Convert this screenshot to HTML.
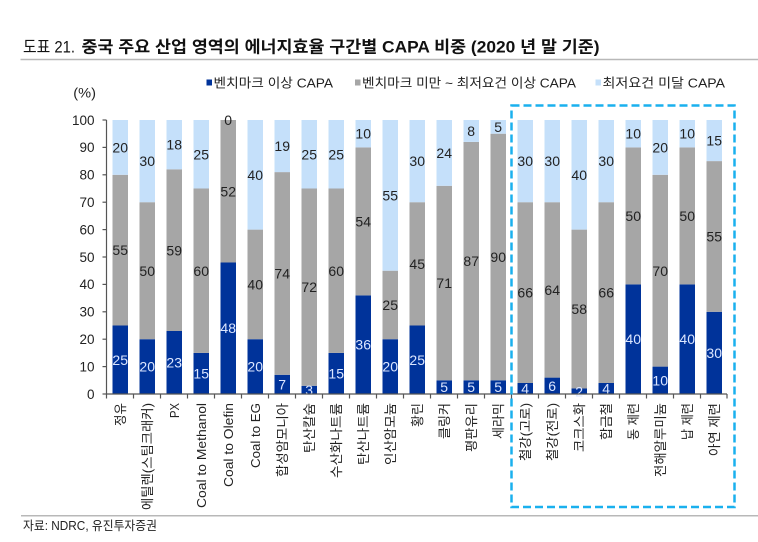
<!DOCTYPE html>
<html><head><meta charset="utf-8"><style>
html,body{margin:0;padding:0;background:#fff;}
svg{display:block;}
text{font-family:"Liberation Sans","Noto Sans CJK KR",sans-serif;}
</style></head><body>
<svg width="758" height="542" viewBox="0 0 758 542" xmlns="http://www.w3.org/2000/svg">
<rect width="758" height="542" fill="#fff"/>
<!-- title -->
<text x="23" y="52.5" font-size="16.5" fill="#111" textLength="52" lengthAdjust="spacingAndGlyphs">도표 21.</text>
<text x="81.5" y="52.5" font-size="16.5" font-weight="bold" fill="#111" textLength="518" lengthAdjust="spacingAndGlyphs">중국 주요 산업 영역의 에너지효율 구간별 CAPA 비중 (2020 년 말 기준)</text>
<line x1="20.5" y1="59.5" x2="758" y2="59.5" stroke="#b8b8b8" stroke-width="1.5"/>
<!-- legend -->
<rect x="206.5" y="79.5" width="5.5" height="6" fill="#00339a"/>
<text x="213.5" y="87.5" font-size="13" fill="#222" textLength="119.5" lengthAdjust="spacingAndGlyphs">벤치마크 이상 CAPA</text>
<rect x="355" y="79.5" width="5.5" height="6" fill="#a6a6a6"/>
<text x="362" y="87.5" font-size="13" fill="#222" textLength="214" lengthAdjust="spacingAndGlyphs">벤치마크 미만 ~ 최저요건 이상 CAPA</text>
<rect x="595.5" y="79.5" width="5.5" height="6" fill="#c5e0fa"/>
<text x="602.5" y="87.5" font-size="13" fill="#222" textLength="122.5" lengthAdjust="spacingAndGlyphs">최저요건 미달 CAPA</text>
<text x="73.3" y="97.5" font-size="13.5" fill="#222" textLength="22.7" lengthAdjust="spacingAndGlyphs">(%)</text>
<!-- y axis -->
<g font-size="13.5" fill="#222" text-anchor="end">
<text x="94.5" y="124.8">100</text>
<text x="94.5" y="152.2">90</text>
<text x="94.5" y="179.6">80</text>
<text x="94.5" y="207">70</text>
<text x="94.5" y="234.4">60</text>
<text x="94.5" y="261.8">50</text>
<text x="94.5" y="289.2">40</text>
<text x="94.5" y="316.6">30</text>
<text x="94.5" y="344">20</text>
<text x="94.5" y="371.4">10</text>
<text x="94.5" y="398.8">0</text>
</g>
<g stroke="#555" stroke-width="1.2">
<line x1="106.5" y1="120" x2="106.5" y2="394"/>
<line x1="102.5" y1="120" x2="106.5" y2="120"/>
<line x1="102.5" y1="147.4" x2="106.5" y2="147.4"/>
<line x1="102.5" y1="174.8" x2="106.5" y2="174.8"/>
<line x1="102.5" y1="202.2" x2="106.5" y2="202.2"/>
<line x1="102.5" y1="229.6" x2="106.5" y2="229.6"/>
<line x1="102.5" y1="257" x2="106.5" y2="257"/>
<line x1="102.5" y1="284.4" x2="106.5" y2="284.4"/>
<line x1="102.5" y1="311.8" x2="106.5" y2="311.8"/>
<line x1="102.5" y1="339.2" x2="106.5" y2="339.2"/>
<line x1="102.5" y1="366.6" x2="106.5" y2="366.6"/>
<line x1="102.5" y1="394" x2="106.5" y2="394"/>
</g>
<!-- bars -->
<g id="bars">
<!-- i, x = 112.5+27i ; y(v)=394-2.74v -->
<!-- 0 정유 25,55,20 -->
<rect x="112.5" y="325.5" width="15.5" height="68.5" fill="#00339a"/>
<rect x="112.5" y="174.8" width="15.5" height="150.7" fill="#a6a6a6"/>
<rect x="112.5" y="120" width="15.5" height="54.8" fill="#c5e0fa"/>
<!-- 1 20,50,30 -->
<rect x="139.5" y="339.2" width="15.5" height="54.8" fill="#00339a"/>
<rect x="139.5" y="202.2" width="15.5" height="137" fill="#a6a6a6"/>
<rect x="139.5" y="120" width="15.5" height="82.2" fill="#c5e0fa"/>
<!-- 2 23,59,18 -->
<rect x="166.5" y="331" width="15.5" height="63" fill="#00339a"/>
<rect x="166.5" y="169.3" width="15.5" height="161.7" fill="#a6a6a6"/>
<rect x="166.5" y="120" width="15.5" height="49.3" fill="#c5e0fa"/>
<!-- 3 15,60,25 -->
<rect x="193.5" y="352.9" width="15.5" height="41.1" fill="#00339a"/>
<rect x="193.5" y="188.5" width="15.5" height="164.4" fill="#a6a6a6"/>
<rect x="193.5" y="120" width="15.5" height="68.5" fill="#c5e0fa"/>
<!-- 4 48,52,0 -->
<rect x="220.5" y="262.5" width="15.5" height="131.5" fill="#00339a"/>
<rect x="220.5" y="120" width="15.5" height="142.5" fill="#a6a6a6"/>
<!-- 5 20,40,40 -->
<rect x="247.5" y="339.2" width="15.5" height="54.8" fill="#00339a"/>
<rect x="247.5" y="229.6" width="15.5" height="109.6" fill="#a6a6a6"/>
<rect x="247.5" y="120" width="15.5" height="109.6" fill="#c5e0fa"/>
<!-- 6 7,74,19 -->
<rect x="274.5" y="374.8" width="15.5" height="19.2" fill="#00339a"/>
<rect x="274.5" y="172.1" width="15.5" height="202.7" fill="#a6a6a6"/>
<rect x="274.5" y="120" width="15.5" height="52.1" fill="#c5e0fa"/>
<!-- 7 3,72,25 -->
<rect x="301.5" y="385.8" width="15.5" height="8.2" fill="#00339a"/>
<rect x="301.5" y="188.5" width="15.5" height="197.3" fill="#a6a6a6"/>
<rect x="301.5" y="120" width="15.5" height="68.5" fill="#c5e0fa"/>
<!-- 8 15,60,25 -->
<rect x="328.5" y="352.9" width="15.5" height="41.1" fill="#00339a"/>
<rect x="328.5" y="188.5" width="15.5" height="164.4" fill="#a6a6a6"/>
<rect x="328.5" y="120" width="15.5" height="68.5" fill="#c5e0fa"/>
<!-- 9 36,54,10 -->
<rect x="355.5" y="295.4" width="15.5" height="98.6" fill="#00339a"/>
<rect x="355.5" y="147.4" width="15.5" height="148" fill="#a6a6a6"/>
<rect x="355.5" y="120" width="15.5" height="27.4" fill="#c5e0fa"/>
<!-- 10 20,25,55 -->
<rect x="382.5" y="339.2" width="15.5" height="54.8" fill="#00339a"/>
<rect x="382.5" y="270.7" width="15.5" height="68.5" fill="#a6a6a6"/>
<rect x="382.5" y="120" width="15.5" height="150.7" fill="#c5e0fa"/>
<!-- 11 25,45,30 -->
<rect x="409.5" y="325.5" width="15.5" height="68.5" fill="#00339a"/>
<rect x="409.5" y="202.2" width="15.5" height="123.3" fill="#a6a6a6"/>
<rect x="409.5" y="120" width="15.5" height="82.2" fill="#c5e0fa"/>
<!-- 12 5,71,24 -->
<rect x="436.5" y="380.3" width="15.5" height="13.7" fill="#00339a"/>
<rect x="436.5" y="185.8" width="15.5" height="194.5" fill="#a6a6a6"/>
<rect x="436.5" y="120" width="15.5" height="65.8" fill="#c5e0fa"/>
<!-- 13 5,87,8 -->
<rect x="463.5" y="380.3" width="15.5" height="13.7" fill="#00339a"/>
<rect x="463.5" y="141.9" width="15.5" height="238.4" fill="#a6a6a6"/>
<rect x="463.5" y="120" width="15.5" height="21.9" fill="#c5e0fa"/>
<!-- 14 5,90,5 -->
<rect x="490.5" y="380.3" width="15.5" height="13.7" fill="#00339a"/>
<rect x="490.5" y="133.7" width="15.5" height="246.6" fill="#a6a6a6"/>
<rect x="490.5" y="120" width="15.5" height="13.7" fill="#c5e0fa"/>
<!-- 15 4,66,30 -->
<rect x="517.5" y="383" width="15.5" height="11" fill="#00339a"/>
<rect x="517.5" y="202.2" width="15.5" height="180.8" fill="#a6a6a6"/>
<rect x="517.5" y="120" width="15.5" height="82.2" fill="#c5e0fa"/>
<!-- 16 6,64,30 -->
<rect x="544.5" y="377.6" width="15.5" height="16.4" fill="#00339a"/>
<rect x="544.5" y="202.2" width="15.5" height="175.4" fill="#a6a6a6"/>
<rect x="544.5" y="120" width="15.5" height="82.2" fill="#c5e0fa"/>
<!-- 17 2,58,40 -->
<rect x="571.5" y="388.5" width="15.5" height="5.5" fill="#00339a"/>
<rect x="571.5" y="229.6" width="15.5" height="158.9" fill="#a6a6a6"/>
<rect x="571.5" y="120" width="15.5" height="109.6" fill="#c5e0fa"/>
<!-- 18 4,66,30 -->
<rect x="598.5" y="383" width="15.5" height="11" fill="#00339a"/>
<rect x="598.5" y="202.2" width="15.5" height="180.8" fill="#a6a6a6"/>
<rect x="598.5" y="120" width="15.5" height="82.2" fill="#c5e0fa"/>
<!-- 19 40,50,10 -->
<rect x="625.5" y="284.4" width="15.5" height="109.6" fill="#00339a"/>
<rect x="625.5" y="147.4" width="15.5" height="137" fill="#a6a6a6"/>
<rect x="625.5" y="120" width="15.5" height="27.4" fill="#c5e0fa"/>
<!-- 20 10,70,20 -->
<rect x="652.5" y="366.6" width="15.5" height="27.4" fill="#00339a"/>
<rect x="652.5" y="174.8" width="15.5" height="191.8" fill="#a6a6a6"/>
<rect x="652.5" y="120" width="15.5" height="54.8" fill="#c5e0fa"/>
<!-- 21 40,50,10 -->
<rect x="679.5" y="284.4" width="15.5" height="109.6" fill="#00339a"/>
<rect x="679.5" y="147.4" width="15.5" height="137" fill="#a6a6a6"/>
<rect x="679.5" y="120" width="15.5" height="27.4" fill="#c5e0fa"/>
<!-- 22 30,55,15 -->
<rect x="706.5" y="311.8" width="15.5" height="82.2" fill="#00339a"/>
<rect x="706.5" y="161.1" width="15.5" height="150.7" fill="#a6a6a6"/>
<rect x="706.5" y="120" width="15.5" height="41.1" fill="#c5e0fa"/>
</g>
<!-- data labels -->
<g font-size="14" text-anchor="middle" fill="#dbe6ff">
<text x="120.2" y="364.8">25</text>
<text x="147.2" y="371.6">20</text>
<text x="174.2" y="367.5">23</text>
<text x="201.2" y="378.5">15</text>
<text x="228.2" y="333.2">48</text>
<text x="255.2" y="371.6">20</text>
<text x="282.2" y="389.4">7</text>
<text x="309.2" y="395">3</text>
<text x="336.2" y="378.5">15</text>
<text x="363.2" y="349.7">36</text>
<text x="390.2" y="371.6">20</text>
<text x="417.2" y="364.8">25</text>
<text x="444.2" y="392.2">5</text>
<text x="471.2" y="392.2">5</text>
<text x="498.2" y="392.2">5</text>
<text x="525.2" y="393.5">4</text>
<text x="552.2" y="390.8">6</text>
<text x="579.2" y="396.3">2</text>
<text x="606.2" y="393.5">4</text>
<text x="633.2" y="344.2">40</text>
<text x="660.2" y="385.3">10</text>
<text x="687.2" y="344.2">40</text>
<text x="714.2" y="358">30</text>
</g>
<g font-size="14" text-anchor="middle" fill="#222">
<text x="120.2" y="255.2">55</text>
<text x="147.2" y="275.8">50</text>
<text x="174.2" y="255.3">59</text>
<text x="201.2" y="275.8">60</text>
<text x="228.2" y="196.3">52</text>
<text x="255.2" y="289.5">40</text>
<text x="282.2" y="278.5">74</text>
<text x="309.2" y="292.2">72</text>
<text x="336.2" y="275.8">60</text>
<text x="363.2" y="226.4">54</text>
<text x="390.2" y="310">25</text>
<text x="417.2" y="268.9">45</text>
<text x="444.2" y="288.1">71</text>
<text x="471.2" y="266.1">87</text>
<text x="498.2" y="262">90</text>
<text x="525.2" y="297.7">66</text>
<text x="552.2" y="294.9">64</text>
<text x="579.2" y="314.1">58</text>
<text x="606.2" y="297.7">66</text>
<text x="633.2" y="220.9">50</text>
<text x="660.2" y="275.8">70</text>
<text x="687.2" y="220.9">50</text>
<text x="714.2" y="241.5">55</text>
<!-- top segment -->
<text x="120.2" y="152.4">20</text>
<text x="147.2" y="166.1">30</text>
<text x="174.2" y="149.7">18</text>
<text x="201.2" y="159.3">25</text>
<text x="228.2" y="125">0</text>
<text x="255.2" y="179.8">40</text>
<text x="282.2" y="151">19</text>
<text x="309.2" y="159.3">25</text>
<text x="336.2" y="159.3">25</text>
<text x="363.2" y="138.7">10</text>
<text x="390.2" y="200.4">55</text>
<text x="417.2" y="166.1">30</text>
<text x="444.2" y="157.9">24</text>
<text x="471.2" y="136">8</text>
<text x="498.2" y="131.9">5</text>
<text x="525.2" y="166.1">30</text>
<text x="552.2" y="166.1">30</text>
<text x="579.2" y="179.8">40</text>
<text x="606.2" y="166.1">30</text>
<text x="633.2" y="138.7">10</text>
<text x="660.2" y="152.4">20</text>
<text x="687.2" y="138.7">10</text>
<text x="714.2" y="145.6">15</text>
</g>
<!-- x axis -->
<g stroke="#555" stroke-width="1.2">
<line x1="106.5" y1="394" x2="727" y2="394"/>
<line x1="106.5" y1="394" x2="106.5" y2="398.5"/>
<line x1="133.5" y1="394" x2="133.5" y2="398.5"/>
<line x1="160.5" y1="394" x2="160.5" y2="398.5"/>
<line x1="187.5" y1="394" x2="187.5" y2="398.5"/>
<line x1="214.5" y1="394" x2="214.5" y2="398.5"/>
<line x1="241.5" y1="394" x2="241.5" y2="398.5"/>
<line x1="268.5" y1="394" x2="268.5" y2="398.5"/>
<line x1="295.5" y1="394" x2="295.5" y2="398.5"/>
<line x1="322.5" y1="394" x2="322.5" y2="398.5"/>
<line x1="349.5" y1="394" x2="349.5" y2="398.5"/>
<line x1="376.5" y1="394" x2="376.5" y2="398.5"/>
<line x1="403.5" y1="394" x2="403.5" y2="398.5"/>
<line x1="430.5" y1="394" x2="430.5" y2="398.5"/>
<line x1="457.5" y1="394" x2="457.5" y2="398.5"/>
<line x1="484.5" y1="394" x2="484.5" y2="398.5"/>
<line x1="511.5" y1="394" x2="511.5" y2="398.5"/>
<line x1="538.5" y1="394" x2="538.5" y2="398.5"/>
<line x1="565.5" y1="394" x2="565.5" y2="398.5"/>
<line x1="592.5" y1="394" x2="592.5" y2="398.5"/>
<line x1="619.5" y1="394" x2="619.5" y2="398.5"/>
<line x1="646.5" y1="394" x2="646.5" y2="398.5"/>
<line x1="673.5" y1="394" x2="673.5" y2="398.5"/>
<line x1="700.5" y1="394" x2="700.5" y2="398.5"/>
<line x1="727" y1="394" x2="727" y2="398.5"/>
</g>
<!-- x labels (rotated) -->
<g font-size="13" fill="#222" text-anchor="end" lengthAdjust="spacingAndGlyphs">
<text transform="translate(125,403) rotate(-90)" textLength="23" lengthAdjust="spacingAndGlyphs">정유</text>
<text transform="translate(152,403) rotate(-90)" textLength="107" lengthAdjust="spacingAndGlyphs">에틸렌(스팀크래커)</text>
<text transform="translate(179,403) rotate(-90)" textLength="15" lengthAdjust="spacingAndGlyphs">PX</text>
<text transform="translate(206,403) rotate(-90)" textLength="105" lengthAdjust="spacingAndGlyphs">Coal to Methanol</text>
<text transform="translate(233,403) rotate(-90)" textLength="84" lengthAdjust="spacingAndGlyphs">Coal to Olefin</text>
<text transform="translate(260,403) rotate(-90)" textLength="65" lengthAdjust="spacingAndGlyphs">Coal to EG</text>
<text transform="translate(287,403) rotate(-90)" textLength="74" lengthAdjust="spacingAndGlyphs">합성암모니아</text>
<text transform="translate(314,403) rotate(-90)" textLength="50" lengthAdjust="spacingAndGlyphs">탄산칼슘</text>
<text transform="translate(341,403) rotate(-90)" textLength="75" lengthAdjust="spacingAndGlyphs">수산화나트륨</text>
<text transform="translate(368,403) rotate(-90)" textLength="62" lengthAdjust="spacingAndGlyphs">탄산나트륨</text>
<text transform="translate(395,403) rotate(-90)" textLength="62" lengthAdjust="spacingAndGlyphs">인산암모늄</text>
<text transform="translate(422,403) rotate(-90)" textLength="24" lengthAdjust="spacingAndGlyphs">황린</text>
<text transform="translate(449,403) rotate(-90)" textLength="36" lengthAdjust="spacingAndGlyphs">클링커</text>
<text transform="translate(476,403) rotate(-90)" textLength="49" lengthAdjust="spacingAndGlyphs">평판유리</text>
<text transform="translate(503,403) rotate(-90)" textLength="36" lengthAdjust="spacingAndGlyphs">세라믹</text>
<text transform="translate(530,403) rotate(-90)" textLength="58" lengthAdjust="spacingAndGlyphs">철강(고로)</text>
<text transform="translate(557,403) rotate(-90)" textLength="58" lengthAdjust="spacingAndGlyphs">철강(전로)</text>
<text transform="translate(584,403) rotate(-90)" textLength="49" lengthAdjust="spacingAndGlyphs">코크스화</text>
<text transform="translate(611,403) rotate(-90)" textLength="37" lengthAdjust="spacingAndGlyphs">합금철</text>
<text transform="translate(638,403) rotate(-90)" textLength="37" lengthAdjust="spacingAndGlyphs">동 제련</text>
<text transform="translate(665,403) rotate(-90)" textLength="74" lengthAdjust="spacingAndGlyphs">전해알루미늄</text>
<text transform="translate(692,403) rotate(-90)" textLength="37" lengthAdjust="spacingAndGlyphs">납 제련</text>
<text transform="translate(719,403) rotate(-90)" textLength="53" lengthAdjust="spacingAndGlyphs">아연 제련</text>
</g>
<!-- dashed highlight box -->
<rect x="511.5" y="105.5" width="223" height="401.5" fill="none" stroke="#1ab0ee" stroke-width="2.5" stroke-dasharray="8,4"/>
<!-- footer -->
<line x1="21" y1="515.8" x2="758" y2="515.8" stroke="#b8b8b8" stroke-width="1.5"/>
<text x="23" y="530" font-size="12.5" fill="#222" textLength="134" lengthAdjust="spacingAndGlyphs">자료: NDRC, 유진투자증권</text>
</svg>
</body></html>
